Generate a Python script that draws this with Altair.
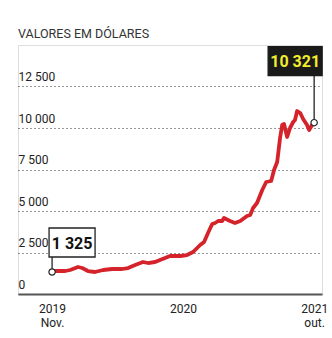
import altair as alt
import pandas as pd

# Weeks since Nov 2019 (0) to Oct 2021 (100), value in dollars
weeks = [0, 1.1, 5.0, 6.9, 9.9, 11.5, 13.7, 16.4, 19.5, 22.9, 26.7, 29.0, 31.7, 34.7,
         36.6, 39.3, 41.2, 45.0, 48.9, 51.5, 53.8, 56.5, 58.0, 59.5, 61.1, 62.2, 63.4,
         64.9, 65.6, 67.9, 69.8, 71.8, 74.4, 75.6, 76.7, 78.2, 80.2, 81.7, 83.6, 84.7,
         85.9, 87.0, 87.8, 88.5, 89.7, 90.8, 92.0, 92.7, 93.5, 94.7, 95.8, 97.3, 98.1,
         99.2, 100]
values = [1325, 1385, 1385, 1446, 1626, 1566, 1385, 1325, 1446, 1506, 1506, 1566, 1747,
          1928, 1867, 1928, 2048, 2289, 2289, 2349, 2530, 2952, 3132, 3675, 4217, 4277,
          4398, 4398, 4578, 4398, 4277, 4398, 4699, 4759, 5181, 5482, 6265, 6747, 6807,
          7470, 7952, 9397, 10180, 10241, 9458, 10000, 10361, 10482, 11024, 10903, 10542,
          10180, 9879, 10180, 10321]
y_ticks = [0, 2500, 5000, 7500, 10000, 12500]
x_ticks = [0, 50, 100]
x_labels_top = ["2019", "2020", "2021"]
x_labels_bottom = ["Nov.", "", "out."]
ann_labels = ["1 325", "10 321"]

FONT = "Roboto"

df = pd.DataFrame({"t": weeks, "v": values})
first = df.iloc[[0]].assign(label=ann_labels[0])
last = df.iloc[[-1]].assign(label=ann_labels[1])

label_expr = (
    f"datum.value == {x_ticks[0]} ? ['{x_labels_top[0]}', '{x_labels_bottom[0]}'] : "
    f"datum.value == {x_ticks[2]} ? ['{x_labels_top[2]}', '{x_labels_bottom[2]}'] : "
    f"'{x_labels_top[1]}'"
)

x = alt.X("t:Q", scale=alt.Scale(domain=[-13, 103], nice=False, zero=False),
          axis=alt.Axis(values=x_ticks, labelExpr=label_expr, title=None, grid=False,
                        ticks=False, domainColor="#555555", domainWidth=2,
                        labelFont=FONT, labelFontSize=12, labelColor="#222222",
                        labelPadding=9, labelLineHeight=14, labelFlush=False))
y = alt.Y("v:Q", scale=alt.Scale(domain=[0, 15000], nice=False),
          axis=alt.Axis(values=y_ticks, title=None, domain=False, ticks=False, tickSize=0,
                        labelAlign="left", labelBaseline="alphabetic", labelPadding=0,
                        labelOffset=-6, labelFlush=False,
                        labelExpr="replace(format(datum.value, ','), ',', ' ')",
                        labelFont=FONT, labelFontSize=12, labelColor="#222222",
                        grid=True, gridDash=[1, 3], gridColor="#333333", gridWidth=1.2))

base = alt.Chart(df)
line = base.mark_line(color="#d5232b", strokeWidth=3.8, strokeJoin="round").encode(x=x, y=y)

def annotation(d, dx, dy, w, h, rule_len, fill, stroke, text_color):
    c = alt.Chart(d)
    rule = c.mark_rule(color="#111111", strokeWidth=1.2, y2Offset=-rule_len).encode(
        x="t:Q", y="v:Q", y2="v:Q")
    pt = c.mark_point(shape="circle", size=40, filled=True, fill="white",
                      stroke="#222222", strokeWidth=1.2, opacity=1).encode(x="t:Q", y="v:Q")
    path = f"M-1,{-h / w:.4f}H1V{h / w:.4f}H-1Z"
    box = c.mark_point(shape=path, size=w * w, filled=True, fill=fill, stroke=stroke,
                       strokeWidth=1.3, opacity=1, xOffset=dx, yOffset=dy).encode(
        x="t:Q", y="v:Q")
    txt = c.mark_text(font=FONT, fontSize=16, fontWeight="bold", color=text_color,
                      align="center", baseline="middle", dx=dx, dy=dy + 1).encode(
        x="t:Q", y="v:Q", text="label:N")
    return rule + pt + box + txt

ann1 = annotation(first, 20, -29.5, 46, 29, 15, "white", "#222222", "#111111")
ann2 = annotation(last, -19, -61.5, 54, 29, 47, "#1a1a1a", "#1a1a1a", "#f2ee2c")

chart = alt.layer(line, ann1, ann2).properties(
    width=304, height=249,
    padding={"left": 18, "top": 45, "right": 10, "bottom": 44},
    autosize="none",
    title=alt.TitleParams("VALORES EM DÓLARES", anchor="start", font=FONT, fontSize=12.5,
                          fontWeight="normal", color="#333333", offset=4),
).configure_view(stroke=None).configure(background="white")

chart.save("out.html", embed_options={"renderer": "svg", "actions": False})
